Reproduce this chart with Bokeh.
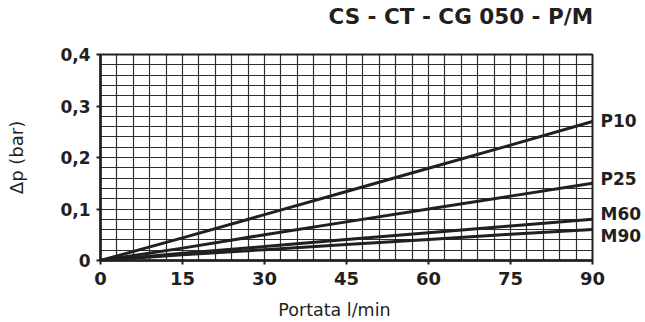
from bokeh.plotting import figure
from bokeh.models import (SingleIntervalTicker, FixedTicker, CustomJSTickFormatter,
                          Range1d, LinearAxis)
from bokeh.embed import file_html
from bokeh.resources import INLINE

# ---- data ----
flow = [0, 15, 30, 45, 60, 75, 90]
p10 = [0, 0.044, 0.089, 0.134, 0.179, 0.224, 0.270]
p25 = [0, 0.024, 0.050, 0.075, 0.100, 0.125, 0.150]
m60 = [0, 0.014, 0.027, 0.041, 0.054, 0.067, 0.080]
m90 = [0, 0.011, 0.021, 0.031, 0.041, 0.051, 0.060]
series_names = ["P10", "P25", "M60", "M90"]
x_ticks = [0, 15, 30, 45, 60, 75, 90]
y_ticks = [0, 0.1, 0.2, 0.3, 0.4]
title_text = "CS - CT - CG 050 - P/M"
x_label = "Portata l/min"
y_label = "\u0394p (bar)"

# layout constants (not data)
label_offsets = [0.0005, 0.009, 0.011, -0.0115]   # series label shift from line end
title_anchor_x = 65.9                              # title centre, in flow units
xlabel_anchor_x = 42.8                             # x-title centre, in flow units

INK = "#231f20"
FONT = "DejaVu Sans"

all_series = [p10, p25, m60, m90]
label_pos = [ys[-1] + off for ys, off in zip(all_series, label_offsets)]

p = figure(width=645, height=322, output_backend="svg", toolbar_location=None,
           x_range=Range1d(0, 90), y_range=Range1d(0, 0.4),
           min_border_left=100, min_border_right=53, min_border_top=54, min_border_bottom=62)
p.background_fill_color = "white"
p.border_fill_color = "white"
p.outline_line_color = INK
p.outline_line_width = 2

# grids
p.xgrid.ticker = SingleIntervalTicker(interval=3)
p.ygrid.ticker = SingleIntervalTicker(interval=0.02)
for g in (p.xgrid, p.ygrid):
    g.grid_line_color = "#222222"
    g.grid_line_width = 1.2
    g.grid_line_alpha = 0.95

# axes
p.xaxis.ticker = FixedTicker(ticks=x_ticks)
p.yaxis.ticker = FixedTicker(ticks=y_ticks)
p.yaxis.formatter = CustomJSTickFormatter(
    code="return tick == 0 ? '0' : tick.toFixed(1).replace('.', ',');")
for ax in (p.xaxis[0], p.yaxis[0]):
    ax.axis_line_color = INK
    ax.axis_line_width = 2.5
    ax.major_tick_line_color = INK
    ax.major_tick_line_width = 2
    ax.major_tick_in = 0
    ax.major_tick_out = 4
    ax.minor_tick_line_color = None
    ax.major_label_text_font = FONT
    ax.major_label_text_font_style = "bold"
    ax.major_label_text_color = INK
p.xaxis.major_label_text_font_size = "18px"
p.yaxis.major_label_text_font_size = "17px"
p.xaxis.major_label_standoff = 7
p.yaxis.major_label_standoff = 6

p.yaxis.axis_label = y_label
p.yaxis.axis_label_text_font = FONT
p.yaxis.axis_label_text_font_style = "normal"
p.yaxis.axis_label_text_font_size = "18px"
p.yaxis.axis_label_text_color = INK
p.yaxis.axis_label_standoff = 30

# curves
for ys in all_series:
    p.line(flow, ys, line_color=INK, line_width=3)


def text_axis(ticks, texts, standoff, size, style):
    return LinearAxis(
        ticker=FixedTicker(ticks=ticks),
        formatter=CustomJSTickFormatter(
            args=dict(pos=ticks, names=texts),
            code="""let b = 0;
for (let i = 0; i < pos.length; i++) {
  if (Math.abs(pos[i] - tick) < Math.abs(pos[b] - tick)) b = i;
}
return names[b];"""),
        axis_line_color=None, major_tick_line_color=None, minor_tick_line_color=None,
        major_tick_in=0, major_tick_out=0,
        major_label_standoff=standoff, major_label_text_font=FONT,
        major_label_text_font_style=style, major_label_text_font_size=size,
        major_label_text_color=INK)


# series labels (right), chart title (above), x title (below)
p.add_layout(text_axis(label_pos, series_names, 8, "17px", "bold"), "right")
p.add_layout(text_axis([title_anchor_x], [title_text], 26, "21.5px", "bold"), "above")
p.add_layout(text_axis([xlabel_anchor_x], [x_label], 12, "17.5px", "normal"), "below")

open("out.html", "w").write(file_html(p, INLINE))
